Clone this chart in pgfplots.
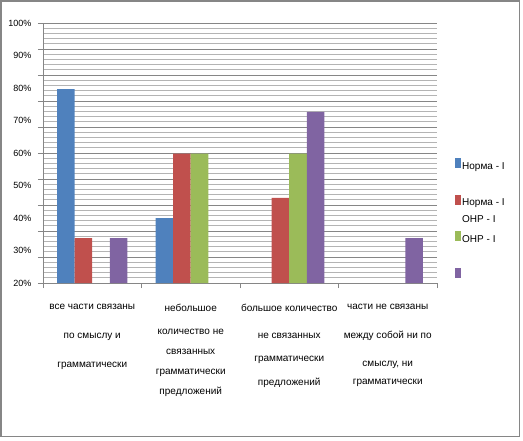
\documentclass[border=0pt]{standalone}
\usepackage{fontspec}
\setmainfont{Liberation Sans}
\usepackage{pgfplots}
\pgfplotsset{compat=1.18}
\definecolor{sBlue}{HTML}{4F81BD}
\definecolor{sRed}{HTML}{C0504D}
\definecolor{sGreen}{HTML}{9BBB59}
\definecolor{sPurple}{HTML}{8064A2}
\definecolor{gridMaj}{HTML}{868686}
\definecolor{gridMin}{HTML}{B4B4B4}

\begin{document}
\begin{tikzpicture}[x=1pt,y=1pt]
\useasboundingbox (0,0) rectangle (523,440);
\draw[gridMaj, line width=1.2pt] (1,3.3) rectangle (519.5,439);
\begin{axis}[
  at={(43pt,157pt)}, anchor=south west,
  width=394pt, height=260pt, scale only axis,
  ybar=0pt, bar width=17.6pt,
  xmin=-0.5, xmax=3.5, ymin=0, ymax=100,
  axis x line*=bottom, axis y line*=left,
  axis line style={gridMaj, line width=0.9pt},
  tick style={gridMaj, line width=0.9pt},
  tick align=outside,
  xtick={-0.5,0.5,1.5,2.5,3.5},
  x tick label as interval,
  major tick length=5pt,
  xticklabels={
    {все части связаны\\[17pt]по смыслу и\\[17pt]грамматически},
    {небольшое\\[11pt]количество не\\[8pt]связанных\\[8pt]грамматически\\[8pt]предложений},
    {большое количество\\[15pt]не связанных\\[11pt]грамматически\\[12pt]предложений},
    {части не связаны\\[17pt]между собой ни по\\[16pt]смыслу, ни\\[6pt]грамматически}},
  xticklabel style={font=\fontsize{10}{12}\selectfont, align=center, anchor=north, yshift=-13pt},
  ytick={0,10,...,100},
  yticklabels={},
  minor y tick num=4,
  minor tick length=0pt,
  ymajorgrids, yminorgrids,
  major grid style={gridMaj, line width=0.9pt},
  minor grid style={gridMin, line width=0.9pt},
  extra y ticks={0,12.5,25,37.5,50,62.5,75,87.5,100},
  extra y tick labels={20\%,30\%,40\%,50\%,60\%,70\%,80\%,90\%,100\%},
  extra y tick style={grid=none, major tick length=0pt,
    yticklabel style={font=\fontsize{9}{10}\selectfont, xshift=-8pt}},
  legend style={at={(1.0457,0.4808)}, anchor=north west, draw=none, fill=none,
    inner sep=0pt, row sep=22.5pt,
    font=\fontsize{10}{12}\selectfont,
    nodes={inner sep=1pt, text height=8pt, text depth=2pt}},
  legend cell align=left,
  legend image code/.code={\fill[#1, draw=none] (0pt,-2pt) rectangle (6pt,8pt);},
]
\addplot[fill=sBlue, draw=none] coordinates {(0,74.6) (1,25.0)};
\addplot[fill=sRed, draw=none] coordinates {(0,17.3) (1,49.8) (2,32.7)};
\addplot[fill=sGreen, draw=none] coordinates {(1,49.8) (2,49.8)};
\addplot[fill=sPurple, draw=none] coordinates {(0,17.3) (2,65.8) (3,17.3)};
\legend{Норма - I, {\parbox[t]{60pt}{Норма - I\\[5pt]ОНР - I}}, ОНР - I, {\mbox{}}}
\end{axis}
\end{tikzpicture}
\end{document}
